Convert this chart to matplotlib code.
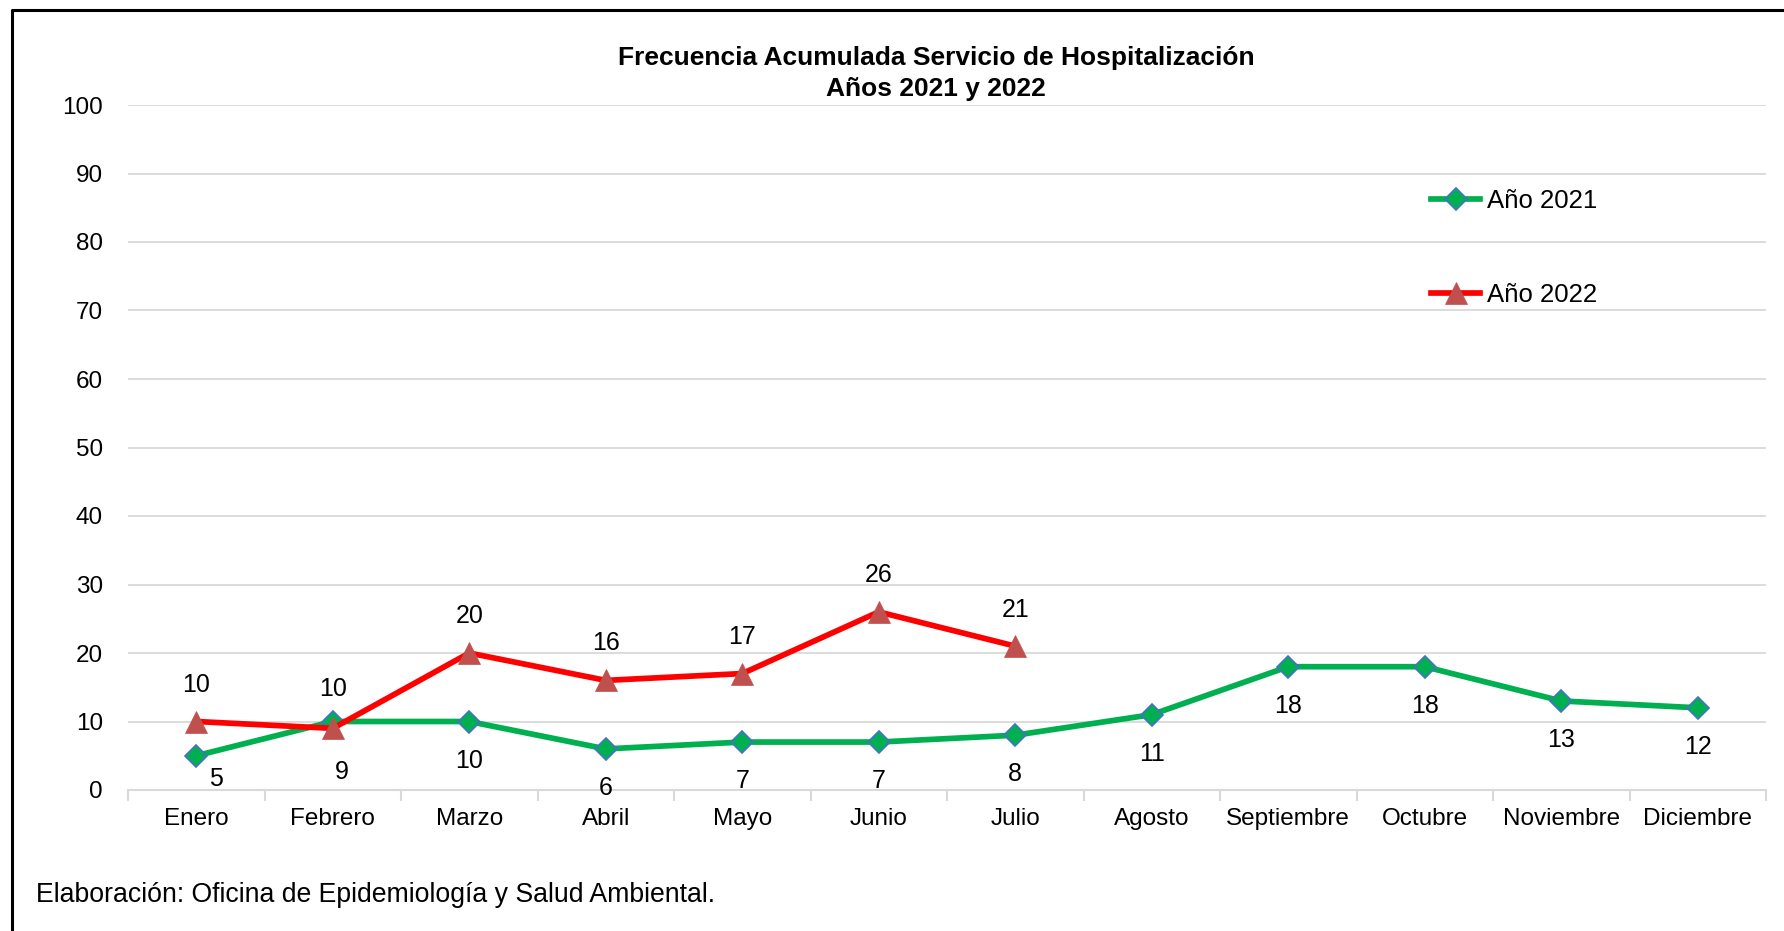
import matplotlib
matplotlib.use("Agg")
import matplotlib.pyplot as plt
from matplotlib.lines import Line2D

# ---- data ----
months = ["Enero", "Febrero", "Marzo", "Abril", "Mayo", "Junio", "Julio",
          "Agosto", "Septiembre", "Octubre", "Noviembre", "Diciembre"]
y2021 = [5, 10, 10, 6, 7, 7, 8, 11, 18, 18, 13, 12]
y2022 = [10, 9, 20, 16, 17, 26, 21]
y_ticks = [0, 10, 20, 30, 40, 50, 60, 70, 80, 90, 100]

# label offsets in pixels (x, y) -- placed by hand like in the original
off2021 = [(20, -23), (0, 32), (0, -39), (0, -39), (0, -39), (0, -39), (0, -39),
           (0, -39), (0, -39), (0, -39), (0, -39), (0, -39)]
off2022 = [(0, 37), (9, -44), (0, 37), (0, 37), (0, 37), (0, 37), (0, 36)]

plt.rcParams['font.family'] = ['Liberation Sans', 'DejaVu Sans']

W, H = 1784, 931
fig = plt.figure(figsize=(W / 100, H / 100), dpi=100)
ax = fig.add_axes([128 / W, 1 - 790 / H, (1766 - 128) / W, (790 - 105) / H])

x21 = list(range(len(y2021)))
x22 = list(range(len(y2022)))

ax.plot(x21, y2021, color="#00B050", lw=4.1, marker="D", ms=11,
        mfc="#00B050", mec="#4472C4", mew=1.2, label="Año 2021", zorder=3)
ax.plot(x22, y2022, color="#FF0000", lw=4.1, marker="^", ms=16.5,
        mfc="#C0504D", mec="#C0504D", mew=0.5, label="Año 2022", zorder=4)

for x, v, o in zip(x21, y2021, off2021):
    ax.annotate(str(v), (x, v), xytext=o, textcoords="offset pixels",
                ha="center", va="center", fontsize=18)
for x, v, o in zip(x22, y2022, off2022):
    ax.annotate(str(v), (x, v), xytext=o, textcoords="offset pixels",
                ha="center", va="center", fontsize=18)

ax.set_xlim(-0.5, 11.5)
ax.set_ylim(0, 100)
ax.set_yticks(y_ticks)
ax.set_xticks(x21)
ax.set_xticklabels(months)
ax.set_xticks([i - 0.5 for i in range(13)], minor=True)
ax.tick_params(axis="x", which="major", length=0, pad=13, labelsize=17.5)
ax.tick_params(axis="x", which="minor", length=8, width=1.5, color="#D9D9D9")
ax.tick_params(axis="y", length=0, pad=18, labelsize=17.5)
ax.grid(axis="y", color="#D9D9D9", lw=1.3)
ax.set_axisbelow(True)
for s in ["top", "right", "left"]:
    ax.spines[s].set_visible(False)
ax.spines["bottom"].set_color("#D9D9D9")
ax.spines["bottom"].set_linewidth(1.5)

leg = ax.legend(loc="upper left", bbox_to_anchor=(1421 / W, 1 - 179 / H),
                bbox_transform=fig.transFigure, frameon=False, fontsize=18.5,
                handlelength=1.9, handletextpad=0.25, labelspacing=2.7,
                borderaxespad=0)

fig.text(936 / W, 1 - 58 / H, "Frecuencia Acumulada Servicio de Hospitalización",
         ha="center", va="center", fontsize=19, fontweight="bold")
fig.text(936 / W, 1 - 89 / H, "Años 2021 y 2022",
         ha="center", va="center", fontsize=19, fontweight="bold")
fig.text(36 / W, 1 - 895 / H, "Elaboración: Oficina de Epidemiología y Salud Ambiental.",
         ha="left", va="center", fontsize=19.2)

# outer frame (left and top edges)
fig.add_artist(Line2D([12 / W, 12 / W, 1.0], [0.0, 1 - 10 / H, 1 - 10 / H],
                      transform=fig.transFigure, color="black", lw=2.2))

fig.savefig("out.png", dpi=100)
